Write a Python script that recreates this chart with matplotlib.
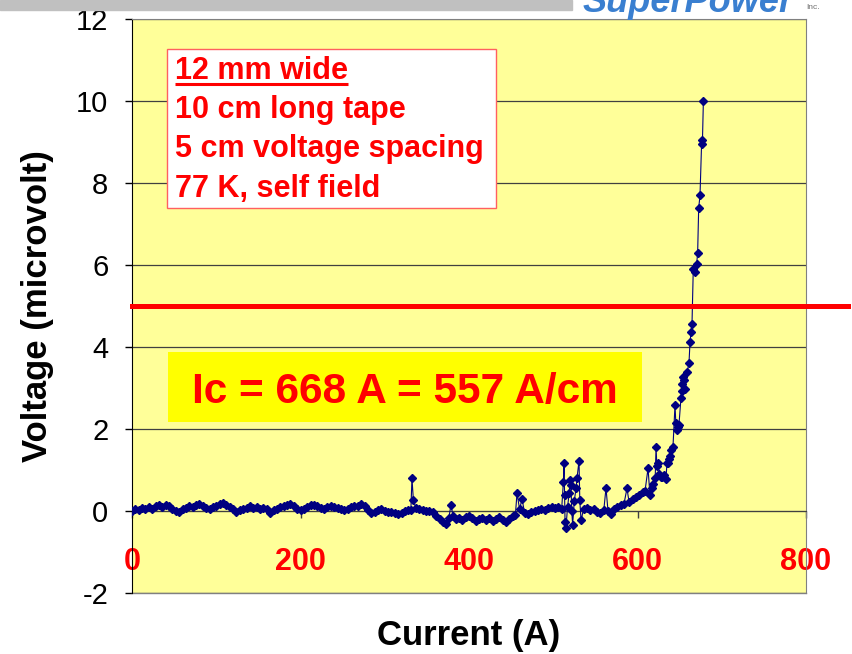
import matplotlib.pyplot as plt
from matplotlib.patches import Rectangle

plt.rcParams['font.family'] = ['Liberation Sans', 'DejaVu Sans']
plt.rcParams['axes.unicode_minus'] = False

# --- measured V-I curve (current in A, voltage in microvolt) ---
current_a = [
    0, 4, 8, 12, 16, 20, 24, 28, 32, 36, 40, 44, 48, 52, 56, 60, 64, 68, 72, 76,
    80, 84, 88, 92, 96, 100, 104, 108, 112, 116, 120, 124, 128, 132, 136, 140, 144, 148, 152, 156,
    160, 164, 168, 172, 176, 180, 184, 188, 192, 196, 200, 204, 208, 212, 216, 220, 224, 228, 232, 236,
    240, 244, 248, 252, 256, 260, 264, 268, 272, 276, 280, 284, 288, 292, 296, 300, 304, 308, 312, 316,
    320, 324, 328, 331, 332.3, 334, 337, 341, 345, 349, 353, 357, 361, 365, 369, 373, 376, 378.6, 381, 384,
    388, 392, 396, 400, 404, 408, 412, 416, 420, 424, 428, 432, 436, 440, 444, 448, 452, 455, 457, 460,
    463, 466, 470, 474, 478, 482, 486, 490, 494, 498, 502, 506, 510, 512, 512.8, 513.5, 514, 515, 517, 519,
    519.9, 521, 522, 523, 525, 527, 528.2, 530.6, 531.5, 533, 536, 540, 544, 548, 552, 556, 560, 562.6, 565, 568,
    572, 576, 580, 584, 587.5, 590, 594.7, 598, 602, 606.5, 609, 612.5, 614.8, 617, 618.4, 621, 622, 623, 624.3, 626,
    628, 629.1, 631, 633.8, 635, 636.2, 637.5, 638.6, 640, 642.1, 644.5, 645.5, 646.9, 648, 649.2, 651.6, 652.8, 653.4, 653.9, 655.1,
    656.3, 658.7, 661.1, 662.3, 663.5, 664.7, 666.2, 668, 670.2, 671.4, 672.6, 674.2, 676.2, 677, 678.2,
]
voltage_uv = [
    0.00, 0.05, 0.02, 0.07, 0.04, 0.09, 0.06, 0.11, 0.14, 0.10, 0.15, 0.12, 0.06, 0.00, -0.03, 0.04, 0.08, 0.12, 0.10, 0.15,
    0.17, 0.12, 0.08, 0.05, 0.09, 0.13, 0.16, 0.20, 0.15, 0.10, 0.04, -0.02, 0.02, 0.06, 0.08, 0.11, 0.07, 0.09, 0.05, 0.08,
    0.04, -0.05, 0.02, 0.06, 0.09, 0.11, 0.14, 0.17, 0.12, 0.06, 0.02, 0.05, 0.10, 0.14, 0.15, 0.11, 0.08, 0.06, 0.09, 0.12,
    0.10, 0.07, 0.04, 0.03, 0.06, 0.09, 0.11, 0.13, 0.16, 0.12, 0.02, -0.06, -0.02, 0.02, 0.04, 0.01, -0.03, -0.02, -0.05, -0.08,
    -0.04, 0.00, 0.03, 0.02, 0.80, 0.26, 0.07, 0.04, 0.02, 0.00, -0.01, -0.03, -0.12, -0.20, -0.26, -0.32, -0.18, 0.15, -0.12, -0.20,
    -0.16, -0.22, -0.14, -0.12, -0.18, -0.24, -0.20, -0.16, -0.22, -0.17, -0.24, -0.20, -0.15, -0.21, -0.26, -0.19, -0.13, -0.10, 0.43, 0.05,
    0.29, -0.05, -0.08, -0.03, 0.00, 0.02, 0.05, 0.03, 0.08, 0.10, 0.07, 0.09, 0.05, 0.70, 1.16, 0.40, -0.27, -0.42, 0.10, 0.45,
    0.75, 0.64, 0.00, -0.33, 0.25, 0.55, 0.80, 1.23, 0.26, -0.23, 0.05, 0.08, 0.03, 0.05, -0.02, -0.05, 0.02, 0.56, 0.00, -0.08,
    0.05, 0.10, 0.14, 0.18, 0.55, 0.22, 0.30, 0.33, 0.38, 0.46, 0.50, 1.04, 0.38, 0.55, 0.67, 0.80, 1.56, 1.10, 1.17, 0.90,
    0.82, 0.82, 0.88, 0.79, 1.17, 1.16, 1.28, 1.35, 1.50, 1.56, 2.58, 2.15, 1.97, 2.05, 2.10, 2.76, 2.93, 3.10, 3.26, 3.20,
    2.98, 3.38, 3.60, 4.11, 4.36, 4.57, 5.90, 5.82, 6.02, 6.30, 7.38, 7.70, 9.05, 8.95, 10.00,
]

criterion_uv = 5
notes = ['12 mm wide', '10 cm long tape', '5 cm voltage spacing', '77 K, self field']
ic_text = 'Ic = 668 A = 557 A/cm'
x_ticks = [0, 200, 400, 600, 800]
y_ticks = [-2, 0, 2, 4, 6, 8, 10, 12]

fig = plt.figure(figsize=(8.52, 6.54), dpi=100)
ax = fig.add_axes([132 / 852, 61 / 654, 674 / 852, 574 / 654])
ax.set_facecolor('#FFFF99')
ax.set_xlim(0, 800)
ax.set_ylim(-2, 12)

# header strip and logo (logo sits partly above the page edge)
fig.patches.append(Rectangle((0, 1 - 10 / 654), 572 / 852, 10 / 654,
                             transform=fig.transFigure, color='#C0C0C0', zorder=0))
fig.text(583 / 852, 1 - 12 / 654, 'SuperPower', color='#3A7FD0', fontsize=26,
         fontweight='bold', fontstyle='italic', va='baseline', ha='left')
fig.text(806 / 852, 1 - 9 / 654, 'Inc.', color='#707070', fontsize=6, va='baseline')

# frame and gridlines
ax.yaxis.grid(True, color='#404040', lw=0.9)
ax.set_axisbelow(True)
for side in ['top', 'right']:
    ax.spines[side].set_color('#808080')
ax.spines['left'].set_color('black')
ax.spines['bottom'].set_position(('data', 0))
ax.spines['bottom'].set_color('#404040')
ax.axhline(-2, color='#808080', lw=1, clip_on=False)

ax.set_xticks(x_ticks)
ax.set_yticks(y_ticks)
ax.tick_params(axis='x', direction='out', length=5, width=1, color='#404040',
               pad=21, labelsize=22, labelcolor='red')
ax.tick_params(axis='y', direction='out', length=5, width=1, pad=12, labelsize=21)
for lab in ax.get_xticklabels():
    lab.set_fontweight('bold')

ax.set_xlabel('Current (A)', fontsize=25, fontweight='bold', va='center')
ax.xaxis.set_label_coords(0.5, (593 - 635) / 574)
ax.set_ylabel('Voltage (microvolt)', fontsize=25, fontweight='bold', va='center')
ax.yaxis.set_label_coords((38 - 132) / 674, 0.5)

# data
ax.plot(current_a, voltage_uv, color='#000080', lw=0.8, marker='D', markersize=4.2,
        zorder=3)

# 5 microvolt criterion
ax.plot([0, 850], [criterion_uv, criterion_uv], color='red', lw=3.6, clip_on=False, zorder=4)

# sample description box
ax.add_patch(Rectangle((41.5, 7.4), 390.5, 3.88, facecolor='white', edgecolor='#FF6060',
                       lw=1, zorder=5))
baselines = [10.53, 9.58, 8.63, 7.65]
note_texts = []
for txt, yb in zip(notes, baselines):
    note_texts.append(ax.text(51, yb, txt, color='red', fontsize=22, fontweight='bold',
                              va='baseline', ha='left', zorder=6))

# underline the first line of the box
fig.canvas.draw()
bb = note_texts[0].get_window_extent()
inv = ax.transData.inverted()
ux0 = inv.transform((bb.x0, bb.y0))[0]
ux1 = inv.transform((bb.x1, bb.y0))[0]
ax.plot([ux0, ux1], [baselines[0] - 0.11] * 2, color='red', lw=2.2, zorder=6,
        solid_capstyle='butt')

# critical current label
ax.add_patch(Rectangle((42.7, 2.16), 562.6, 1.71, facecolor='#FFFF00', edgecolor='none',
                       zorder=5))
ax.text(324, 2.63, ic_text, color='red', fontsize=30.5, fontweight='bold',
        ha='center', va='baseline', zorder=6)

fig.savefig('out.png', dpi=100)
